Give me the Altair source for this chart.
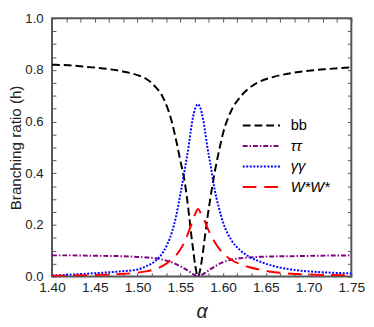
import altair as alt
import pandas as pd

# ---- data ----
alpha = [1.40, 1.42, 1.44, 1.46, 1.48, 1.50, 1.51, 1.52, 1.53, 1.54, 1.545, 1.55,
         1.555, 1.56, 1.5625, 1.565, 1.5675, 1.5708, 1.574, 1.5765, 1.579, 1.5815,
         1.585, 1.59, 1.595, 1.60, 1.61, 1.62, 1.63, 1.64, 1.66, 1.68, 1.70, 1.72, 1.75]

br_bb = [0.820, 0.818, 0.812, 0.806, 0.796, 0.780, 0.766, 0.738, 0.692, 0.600, 0.530, 0.450,
         0.370, 0.245, 0.170, 0.105, 0.042, 0.000, 0.040, 0.095, 0.160, 0.222,
         0.300, 0.400, 0.482, 0.555, 0.645, 0.695, 0.728, 0.750, 0.774, 0.788, 0.797, 0.803, 0.810]

br_tautau = [0.082, 0.082, 0.081, 0.080, 0.079, 0.076, 0.074, 0.071, 0.065, 0.055, 0.048, 0.040,
             0.031, 0.021, 0.015, 0.009, 0.004, 0.000, 0.004, 0.009, 0.014, 0.020,
             0.028, 0.038, 0.048, 0.056, 0.066, 0.071, 0.074, 0.076, 0.078, 0.079, 0.080, 0.081, 0.082]

br_gamgam = [0.004, 0.007, 0.011, 0.015, 0.020, 0.027, 0.040, 0.058, 0.095, 0.170, 0.232, 0.318,
             0.410, 0.510, 0.570, 0.620, 0.652, 0.667, 0.648, 0.612, 0.562, 0.505,
             0.440, 0.340, 0.268, 0.210, 0.140, 0.102, 0.078, 0.062, 0.040, 0.027, 0.020, 0.016, 0.012]

br_ww = [0.003, 0.004, 0.005, 0.007, 0.010, 0.015, 0.020, 0.028, 0.042, 0.066, 0.082, 0.105,
         0.135, 0.175, 0.198, 0.222, 0.243, 0.262, 0.245, 0.230, 0.212, 0.190,
         0.165, 0.135, 0.110, 0.090, 0.064, 0.048, 0.037, 0.029, 0.017, 0.011, 0.008, 0.006, 0.005]

series_names = ["bb", "ττ", "γγ", "W*W*"]
series_values = [br_bb, br_tautau, br_gamgam, br_ww]
series_colors = ["#000000", "#800080", "#0000ff", "#ff0000"]
series_dashes = [[8, 4], [5, 2, 1.5, 2], [2, 1.6], [14, 8]]

x_ticks = [round(1.40 + i * 0.05 / 3, 5) for i in range(22)]
y_ticks = [round(i * 0.05, 3) for i in range(21)]

rows = []
for k, (name, vals) in enumerate(zip(series_names, series_values)):
    for a, v in zip(alpha, vals):
        rows.append({"alpha": a, "value": v, "series": name, "k": k})
df = pd.DataFrame(rows)

W, H = 306, 264

legend = alt.Legend(
    orient="none", legendX=194, legendY=99, title=None,
    symbolType="stroke", symbolSize=1444, symbolStrokeWidth=2,
    labelFontSize=15, labelOffset=10, rowPadding=0, clipHeight=21, labelColor="#000000",
    labelFontStyle={"expr": "datum.label == 'bb' ? 'normal' : 'italic'"},
)

lines = alt.Chart(df).mark_line(strokeWidth=2, interpolate="monotone", clip=True).encode(
    x=alt.X("alpha:Q",
            scale=alt.Scale(domain=[1.40, 1.75], nice=False, zero=False),
            axis=alt.Axis(values=x_ticks, tickSize=4, offset=-4, domain=False, grid=False,
                          labelExpr="abs(datum.value*20 - round(datum.value*20)) < 0.01 ? format(datum.value, '.2f') : ''",
                          labelPadding=4, labelFontSize=14, labelFlush=False, labelColor="#222222",
                          title="α", titleFontSize=20, titleFontStyle="italic",
                          titleFontWeight="normal", titlePadding=8, titleColor="#222222")),
    y=alt.Y("value:Q",
            scale=alt.Scale(domain=[0, 1], nice=False),
            axis=alt.Axis(values=y_ticks, tickSize=4, offset=-4, domain=False, grid=False,
                          labelExpr="abs(datum.value*5 - round(datum.value*5)) < 0.01 ? format(datum.value, '.1f') : ''",
                          labelPadding=9, labelFontSize=13.5, labelFlush=False, labelColor="#222222",
                          title="Branching ratio (h)", titleFontSize=15.5,
                          titleFontWeight="normal", titlePadding=1, titleColor="#222222")),
    color=alt.Color("series:N", scale=alt.Scale(domain=series_names, range=series_colors), legend=legend),
    strokeDash=alt.StrokeDash("series:N", scale=alt.Scale(domain=series_names, range=series_dashes), legend=legend),
    order=alt.Order("alpha:Q"),
)

ticks = alt.Chart(df).mark_point(opacity=0).encode(
    x=alt.X("alpha:Q",
            axis=alt.Axis(orient="top", values=x_ticks, labels=False, tickSize=4, offset=-4,
                          domain=False, grid=False, title=None)),
    y=alt.Y("value:Q",
            axis=alt.Axis(orient="right", values=y_ticks, labels=False, tickSize=4, offset=-4,
                          domain=False, grid=False, title=None)),
)

chart = alt.layer(lines, ticks).resolve_axis(
    x="independent", y="independent"
).properties(
    width=W, height=H,
    autosize=alt.AutoSizeParams(type="none"),
    padding={"left": 45, "top": 7, "right": 15, "bottom": 47},
).configure(
    font="Liberation Sans",
).configure_view(
    stroke="#555555", strokeWidth=2,
).configure_axis(
    tickColor="#555555", tickWidth=1,
)

chart.save("out.html", embed_options={"renderer": "svg", "actions": False})
